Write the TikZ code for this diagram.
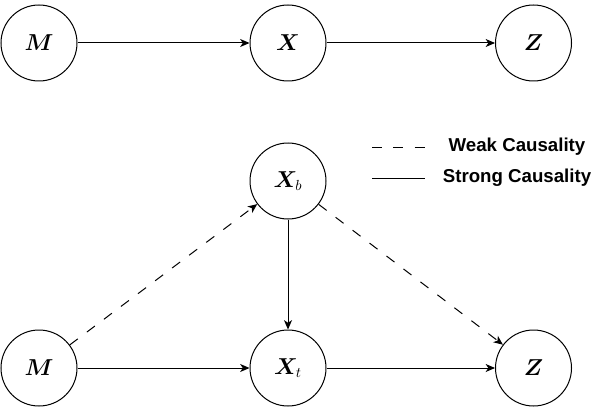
\documentclass[tikz,border=0pt]{standalone}
\usepackage{amssymb}
\usepackage{amsmath}
\usepackage{bm}
\usepackage{fontspec}
\newfontfamily\legendfont{Liberation Sans}
\usepackage{tikz}
\usetikzlibrary{arrows.meta}

\tikzset{
  var/.style={circle,draw,line width=0.75pt,minimum size=57pt,inner sep=0pt,font=\fontsize{16}{19}\selectfont},
  causal/.style={line width=0.75pt,-{Stealth[length=7pt,width=6pt,inset=2pt]}},
  weak/.style={causal,dash pattern=on 7.5pt off 8.5pt},
  legendtext/.style={font=\legendfont\bfseries\fontsize{14}{16}\selectfont,inner sep=0.75pt}
}

\begin{document}
\begin{tikzpicture}[x=0.75pt,y=0.75pt,yscale=-1,xscale=1]
\useasboundingbox (0,0) rectangle (598,417);

%Top chain
\node [var] (m1) at (39,43) {$\boldsymbol{M}$};
\node [var] (x1) at (288,43) {$\boldsymbol{X}$};
\node [var] (z1) at (533.5,43) {$\boldsymbol{Z}$};

%Bottom graph
\node [var] (xb) at (288,181) {$\boldsymbol{X}_{b}$};
\node [var] (m2) at (39,368) {$\boldsymbol{M}$};
\node [var] (xt) at (288,368) {$\boldsymbol{X}_{t}$};
\node [var] (z2) at (533.5,368) {$\boldsymbol{Z}$};

%Straight Lines
\draw [causal] (m1) -- (x1);
\draw [causal] (x1) -- (z1);
\draw [causal] (m2) -- (xt);
\draw [causal] (xt) -- (z2);
\draw [causal] (xb) -- (xt);
\draw [weak] (m2) -- (xb);
\draw [weak] (xb) -- (z2);

%Legend
\coordinate (lw1) at (372,147);
\coordinate (lw2) at (425,147);
\coordinate (ls1) at (372,178);
\coordinate (ls2) at (425,178);
\draw [line width=0.75pt,dash pattern=on 7.5pt off 8.5pt] (lw1) -- (lw2);
\draw [line width=0.75pt] (ls1) -- (ls2);
\node [legendtext] (weaktxt) at (517,147) {Weak Causality};
\node [legendtext] (strongtxt) at (517,178) {Strong Causality};
\end{tikzpicture}
\end{document}
